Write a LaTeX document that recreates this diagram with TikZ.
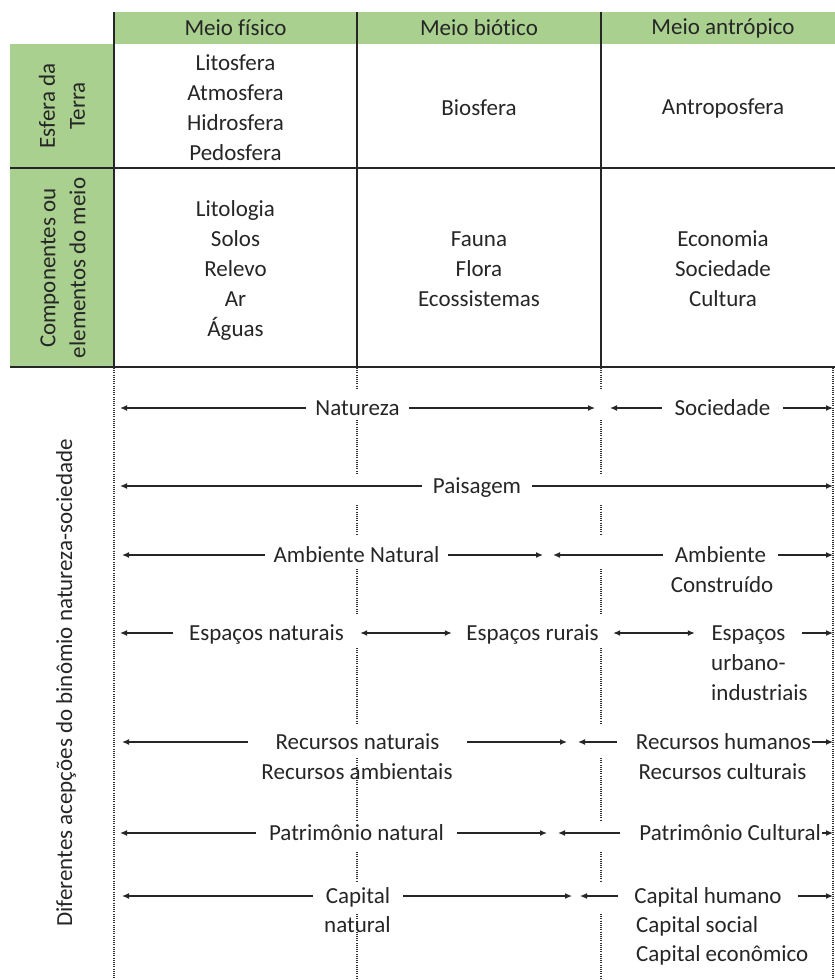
\documentclass[tikz,border=0pt]{standalone}
\usepackage{fontspec}
\setmainfont{Carlito}[Ligatures=NoCommon]
\usetikzlibrary{arrows.meta}
\definecolor{hdr}{HTML}{A9D08E}
\definecolor{ink}{HTML}{262626}
\begin{document}
\begin{tikzpicture}[x=1pt,y=-1pt,
  every node/.style={font=\fontsize{23}{30}\selectfont, text=ink, inner sep=0pt},
  lbl/.style={inner xsep=0pt, inner ysep=0pt, text height=17pt, text depth=3pt},
  gridline/.style={line width=1.8pt, ink},
  dots/.style={line width=1.1pt, black!80, dash pattern=on 1pt off 1.2pt},
  arr/.style={line width=1.3pt, ink, -{Latex[length=7pt,width=6pt]}},
  arrs/.style={line width=1.3pt, ink, {Latex[length=7pt,width=6pt]}-{Latex[length=7pt,width=6pt]}}
]
\useasboundingbox (0,0) rectangle (835,980);

% green header cells
\fill[hdr] (114,12) rectangle (835,44);
\fill[hdr] (10,44) rectangle (114,367);

% table grid
\draw[gridline] (114,12) -- (114,367);
\draw[gridline] (357,12) -- (357,367);
\draw[gridline] (601,12) -- (601,367);
\draw[gridline] (10,168) -- (835,168);
\draw[gridline] (10,367) -- (835,367);

% dotted verticals
\draw[dots] (114,368) -- (114,980);
\draw[dots] (833,368) -- (833,980);
\foreach \a/\b in {368/390,420/475,505/535,569/615,648/725,758/820,852/882,914/980}{
  \draw[dots] (357,\a) -- (357,\b);
  \draw[dots] (601,\a) -- (601,\b);
}

% headers
\node (h1) at (235.5,28) {Meio físico};
\node (h2) at (479,28) {Meio biótico};
\node (h3) at (723,28) {Meio antrópico};

\node[rotate=90, align=center] (r1) at (62,106) {Esfera da\\Terra};
\node[rotate=90, align=center] (r2) at (63,268) {Componentes ou\\elementos do meio};
\node[rotate=90] (r3) at (66,683) {Diferentes acepções do binômio natureza-sociedade};

% row 1
\node[align=center] (c11) at (235.5,108) {Litosfera\\Atmosfera\\Hidrosfera\\Pedosfera};
\node (c12) at (479,108) {Biosfera};
\node (c13) at (723,108) {Antroposfera};

% row 2
\node[align=center] (c21) at (235.5,270) {Litologia\\Solos\\Relevo\\Ar\\Águas};
\node[align=center] (c22) at (479,269) {Fauna\\Flora\\Ecossistemas};
\node[align=center] (c23) at (723,269) {Economia\\Sociedade\\Cultura};

% bottom: row Natureza / Sociedade
\node[lbl, minimum width=103] (nat) at (357.5,408) {Natureza};
\node[lbl, minimum width=121] (soc) at (722.5,408) {Sociedade};
\coordinate (natL) at (120,408);
\coordinate (natR) at (595,408);
\coordinate (socL) at (610,408);
\coordinate (socR) at (833,408);
\draw[arr] (nat) -- (natL);
\draw[arr] (nat) -- (natR);
\draw[arr] (soc) -- (socL);
\draw[arr] (soc) -- (socR);

% Paisagem
\node[lbl, minimum width=110] (pai) at (477,486) {Paisagem};
\coordinate (paiL) at (120,486);
\coordinate (paiR) at (833,486);
\draw[arr] (pai) -- (paiL);
\draw[arr] (pai) -- (paiR);

% Ambiente
\node[lbl, minimum width=183] (ambn) at (356.5,555) {Ambiente Natural};
\node[lbl, minimum width=115] (ambc) at (720.5,555) {Ambiente};
\node[lbl] (ambc2) at (722,585) {Construído};
\coordinate (ambnL) at (122,555);
\coordinate (ambnR) at (543,555);
\coordinate (ambcL) at (553,555);
\coordinate (ambcR) at (833,555);
\draw[arr] (ambn) -- (ambnL);
\draw[arr] (ambn) -- (ambnR);
\draw[arr] (ambc) -- (ambcL);
\draw[arr] (ambc) -- (ambcR);

% Espaços
\node[lbl, minimum width=187] (espn) at (266.5,633) {Espaços naturais};
\node[lbl, minimum width=161] (espr) at (532.5,633) {Espaços rurais};
\node[lbl, minimum width=107] (espu) at (748.5,633) {Espaços};
\node[lbl, anchor=west] (espu2) at (711,663) {urbano-};
\node[lbl, anchor=west] (espu3) at (711,693) {industriais};
\coordinate (espnL) at (120,633);
\coordinate (espuR) at (833,633);
\draw[arr] (espn) -- (espnL);
\draw[arrs] (espn) -- (espr);
\draw[arrs] (espr) -- (espu);
\draw[arr] (espu) -- (espuR);

% Recursos
\node[lbl, minimum width=219] (recn) at (357.5,742) {Recursos naturais};
\node[lbl] (recn2) at (357,772) {Recursos ambientais};
\node[lbl, minimum width=195, text width=193, align=flush right] (rech) at (714.5,742) {Recursos humanos};
\node[lbl] (rech2) at (722.5,772) {Recursos culturais};
\coordinate (recnL) at (122,742);
\coordinate (recnR) at (567,742);
\coordinate (rechL) at (578,742);
\coordinate (rechR) at (833,742);
\draw[arr] (recn) -- (recnL);
\draw[arr] (recn) -- (recnR);
\draw[arr] (rech) -- (rechL);
\draw[arr] (rech) -- (rechR);

% Patrimônio
\node[lbl, minimum width=201] (patn) at (356.5,833) {Patrimônio natural};
\node[lbl, minimum width=202, text width=200, align=flush right] (patc) at (721,833) {Patrimônio Cultural};
\coordinate (patnL) at (120,833);
\coordinate (patnR) at (547,833);
\coordinate (patcL) at (558,833);
\coordinate (patcR) at (833,833);
\draw[arr] (patn) -- (patnL);
\draw[arr] (patn) -- (patnR);
\draw[arr] (patc) -- (patcL);
\draw[arr] (patc) -- (patcR);

% Capital
\node[lbl, minimum width=90] (capn) at (358,896) {Capital};
\node[lbl] (capn2) at (357.5,925) {natural};
\node[lbl, minimum width=180] (caph) at (708,896) {Capital humano};
\node[lbl, anchor=west] (caph2) at (636,925) {Capital social};
\node[lbl, anchor=west] (caph3) at (636,954) {Capital econômico};
\coordinate (capnL) at (122,896);
\coordinate (capnR) at (572,896);
\coordinate (caphL) at (580,896);
\coordinate (caphR) at (833,896);
\draw[arr] (capn) -- (capnL);
\draw[arr] (capn) -- (capnR);
\draw[arr] (caph) -- (caphL);
\draw[arr] (caph) -- (caphR);
\end{tikzpicture}
\end{document}
